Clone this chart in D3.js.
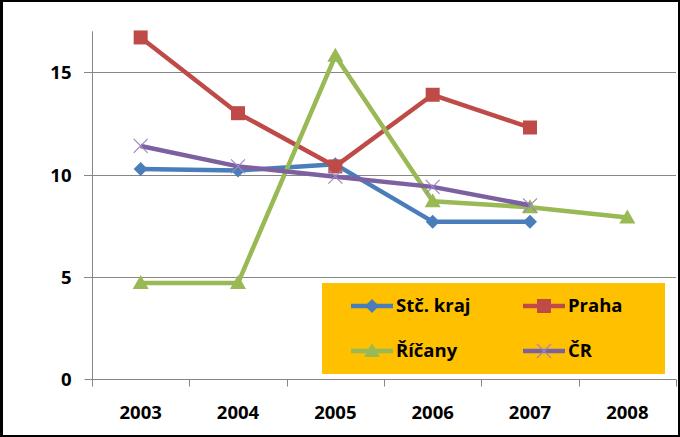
<!DOCTYPE html>
<html><head><meta charset="utf-8">
<script src="https://cdn.jsdelivr.net/npm/d3@7"></script>
<style>body{margin:0;background:#fff}svg{display:block}</style>
</head><body>
<svg id="c" width="680" height="437"></svg>
<script>
const years = ["2003","2004","2005","2006","2007","2008"];
const yTicks = [0,5,10,15];
const stcKraj = [10.27,10.2,10.5,7.7,7.7,null];
const praha   = [16.7,13.0,10.4,13.9,12.3,null];
const ricany  = [4.7,4.7,15.8,8.7,8.4,7.9];
const cr      = [11.4,10.4,9.9,9.4,8.5,null];
const seriesNames = ["Stč. kraj","Praha","Říčany","ČR"];

const series = [
  {name:seriesNames[0], values:stcKraj, color:"#4A7EBB", marker:"diamond"},
  {name:seriesNames[1], values:praha, color:"#BE4B48", marker:"square"},
  {name:seriesNames[2], values:ricany, color:"#98B954", marker:"triangle"},
  {name:seriesNames[3], values:cr, color:"#7D60A0", marker:"x"}
];

const svg = d3.select("#c");
const FONT = "'Open Sans', sans-serif";
svg.append("rect").attr("width",680).attr("height",437).attr("fill","#000");
svg.append("rect").attr("x",3).attr("y",2).attr("width",675).attr("height",433).attr("fill","#fff");

const x = d3.scaleBand().domain(years).range([92,676]);
const y = d3.scaleLinear().domain([0,17]).range([379.3,31.3]);
const grid = "#868686";

// gridlines
svg.append("g").selectAll("line").data(yTicks.filter(d=>d>0)).join("line")
  .attr("x1",84).attr("x2",676)
  .attr("y1",d=>Math.round(y(d))+0.5).attr("y2",d=>Math.round(y(d))+0.5)
  .attr("stroke",grid).attr("stroke-width",1);

// y axis
const yAxis = svg.append("g").attr("transform","translate(92.5,0)")
  .call(d3.axisLeft(y).tickValues(yTicks).tickSize(8).tickFormat(d3.format("d")));
yAxis.select(".domain").attr("d",`M0,${y(17)}V${Math.round(y(0))+0.5}`).attr("stroke",grid);
yAxis.selectAll(".tick").attr("transform",d=>`translate(0,${Math.round(y(d))+0.5})`);
yAxis.selectAll(".tick line").attr("stroke",grid);
yAxis.selectAll(".tick text").attr("x",-21).attr("dy","0.35em")
  .attr("font-family",FONT).attr("font-weight","bold").attr("font-size",18.5).attr("fill","#000");

// x axis
const xAxis = svg.append("g").attr("transform",`translate(0,${Math.round(y(0))+0.5})`)
  .call(d3.axisBottom(x).tickSize(0));
xAxis.select(".domain").attr("d","M92,0H676").attr("stroke",grid);
xAxis.selectAll(".tick line").remove();
xAxis.selectAll(".tick text").attr("y",33).attr("dy","0.35em")
  .attr("font-family",FONT).attr("font-weight","bold").attr("font-size",18.5).attr("fill","#000");
// category boundary ticks
const bounds = years.map(d=>x(d)).concat([x.range()[1]]);
xAxis.append("g").selectAll("line").data(bounds).join("line")
  .attr("x1",d=>Math.round(d)+0.5).attr("x2",d=>Math.round(d)+0.5)
  .attr("y1",0).attr("y2",7).attr("stroke",grid);

const cx = d => x(d)+x.bandwidth()/2;

function drawMarker(g, type, color, px, py){
  if(type==="diamond"){
    g.append("path").attr("d",`M${px},${py-7}L${px+7},${py}L${px},${py+7}L${px-7},${py}Z`).attr("fill",color);
  } else if(type==="square"){
    g.append("rect").attr("x",px-7).attr("y",py-7).attr("width",14).attr("height",14).attr("fill",color);
  } else if(type==="triangle"){
    g.append("path").attr("d",`M${px},${py-8}L${px+8},${py+6}L${px-8},${py+6}Z`).attr("fill",color);
  } else {
    g.append("path").attr("d",`M${px-7},${py-7}L${px+7},${py+7}M${px-7},${py+7}L${px+7},${py-7}`)
      .attr("stroke","#9c88c0").attr("stroke-width",1.2).attr("fill","none");
  }
}

const line = d3.line().defined(d=>d.v!=null).x(d=>cx(d.year)).y(d=>y(d.v));
series.forEach(s=>{
  const pts = years.map((yr,i)=>({year:yr, v:s.values[i]}));
  const g = svg.append("g");
  g.append("path").attr("d",line(pts)).attr("fill","none").attr("stroke",s.color)
    .attr("stroke-width",4.5).attr("stroke-linejoin","round");
  pts.filter(p=>p.v!=null).forEach(p=>drawMarker(g,s.marker,s.color,cx(p.year),y(p.v)));
});

// legend
const lg = svg.append("g");
lg.append("rect").attr("x",322).attr("y",283).attr("width",343).attr("height",91).attr("fill","#FFC000");
const lpos = [[351,306],[523,306],[351,351],[523,351]];
series.forEach((s,i)=>{
  const [lx,ly] = lpos[i];
  const g = lg.append("g");
  g.append("line").attr("x1",lx).attr("x2",lx+42).attr("y1",ly).attr("y2",ly)
    .attr("stroke",s.color).attr("stroke-width",4.5);
  drawMarker(g,s.marker,s.color,lx+21,ly);
  g.append("text").attr("x",lx+45).attr("y",ly).attr("dy","0.35em")
    .attr("font-family",FONT).attr("font-weight","bold").attr("font-size",18.5).attr("fill","#000")
    .text(s.name);
});
</script>
</body></html>
